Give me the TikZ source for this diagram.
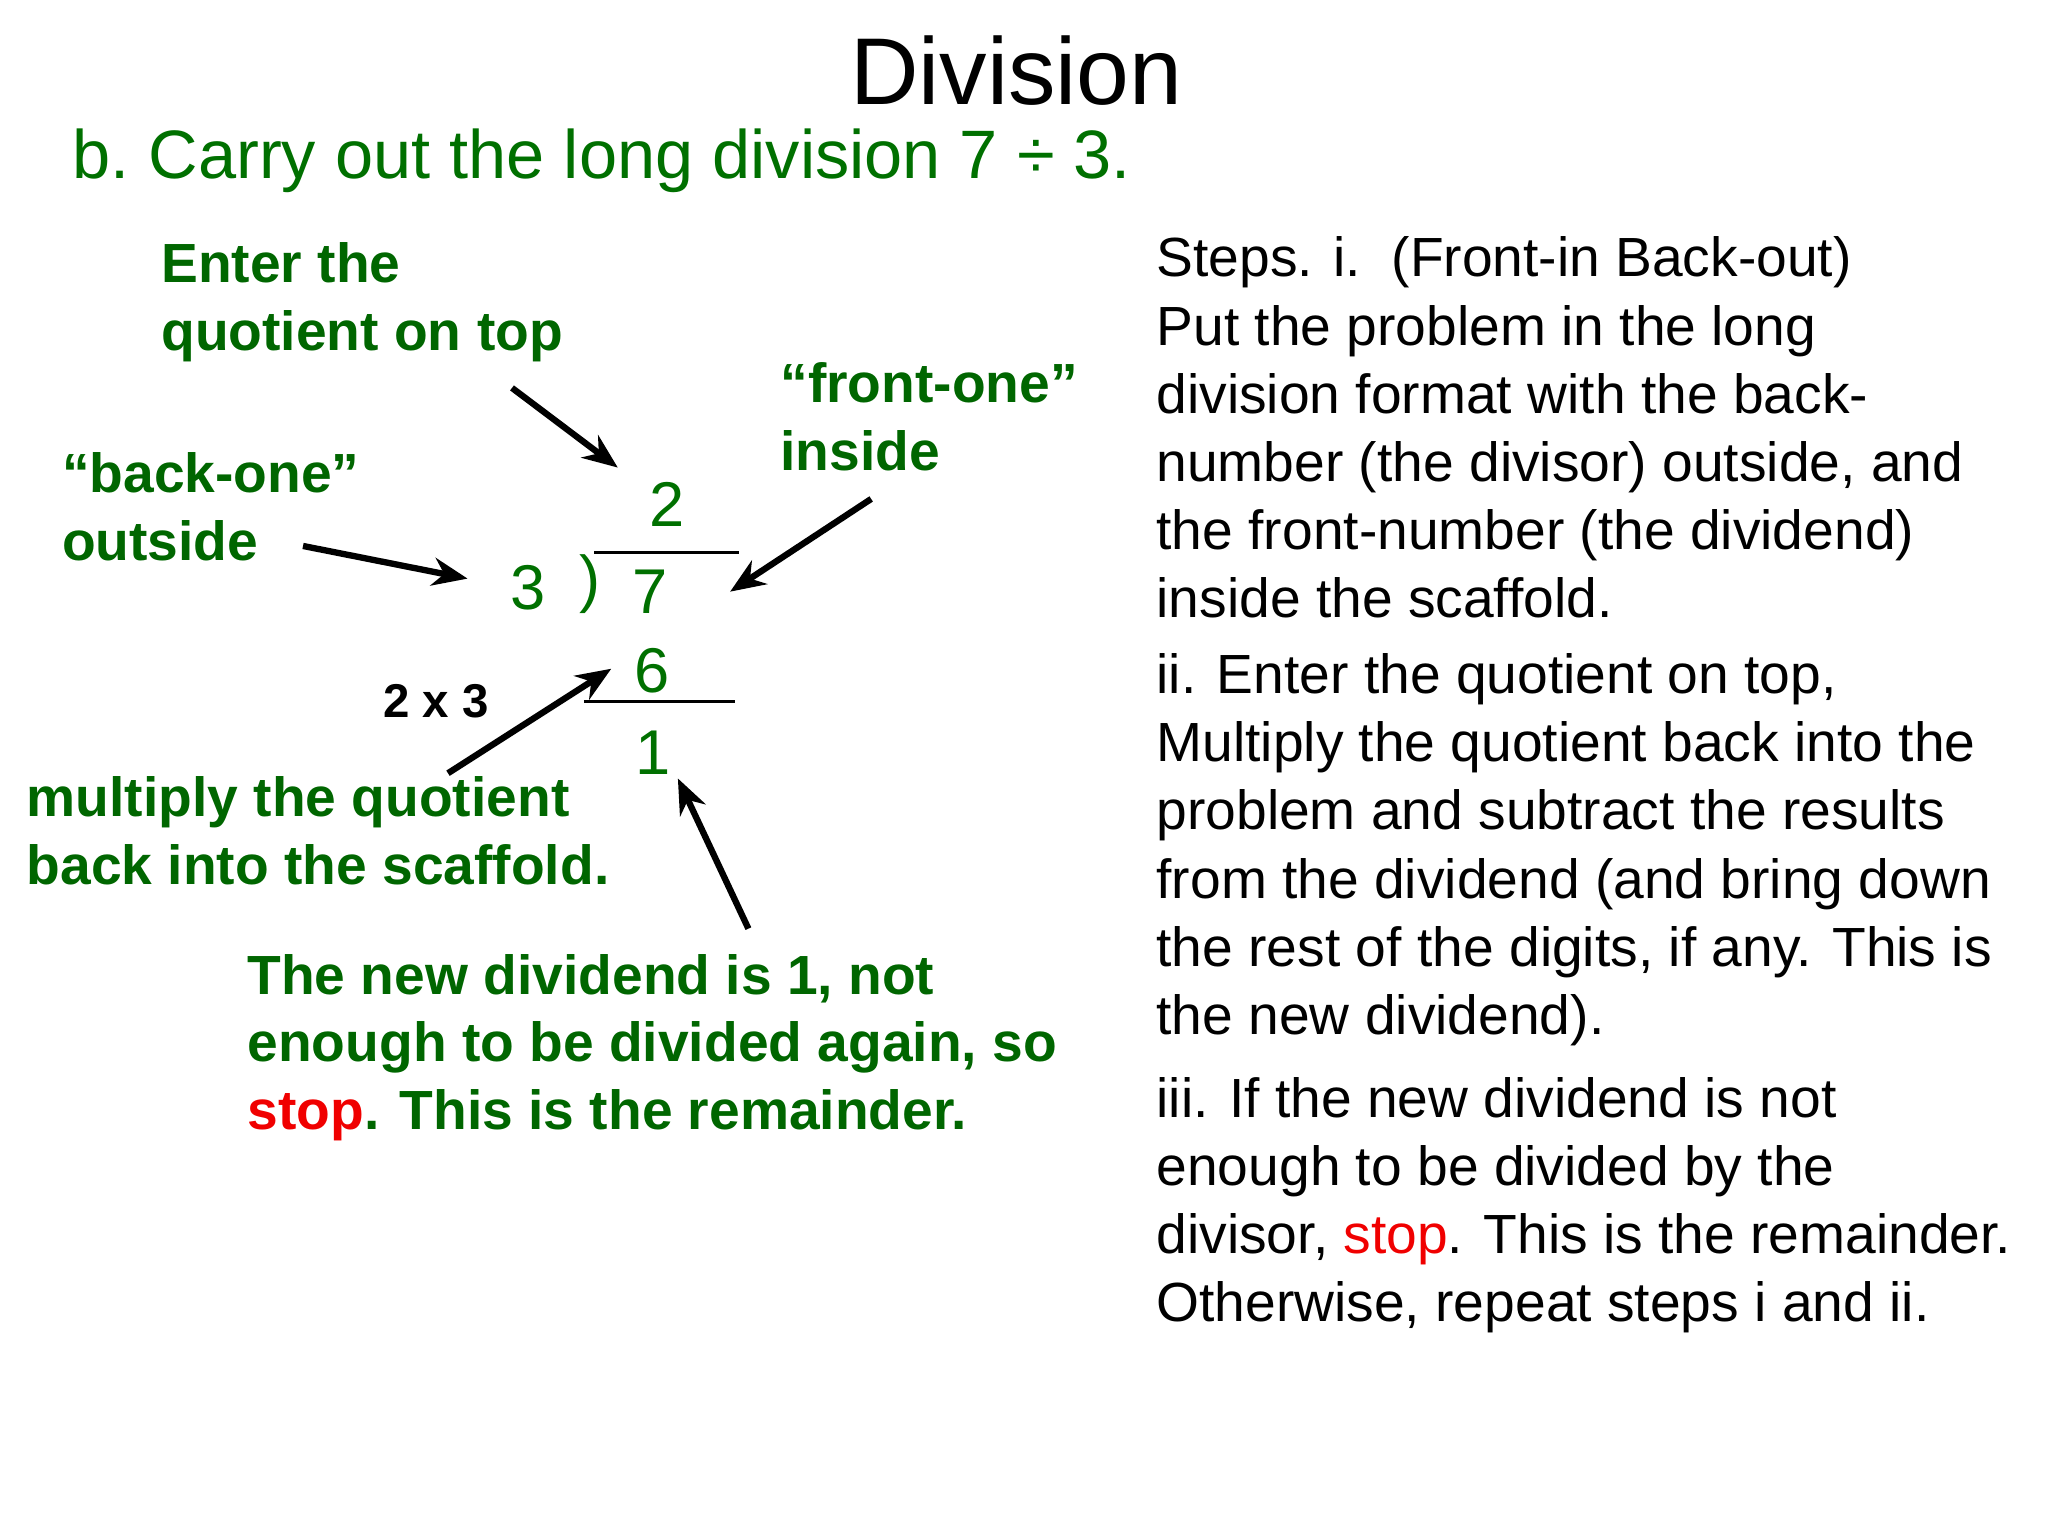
\documentclass[tikz,border=0pt]{standalone}
\usepackage{fontspec}
\setmainfont{Liberation Sans}
\usetikzlibrary{arrows.meta}
\definecolor{tgreen}{RGB}{0,112,0}
\definecolor{lgreen}{RGB}{0,102,0}
\definecolor{sred}{RGB}{240,0,0}
\begin{document}
\begin{tikzpicture}[x=0.01306cm,y=-0.01306cm,
  lab/.style={font=\fontsize{15.7}{19.3}\selectfont\bfseries,text=lgreen,align=left,anchor=base west,inner sep=0},
  body/.style={font=\fontsize{15.7}{19.4}\selectfont,align=left,anchor=base west,inner sep=0},
  dig/.style={font=\fontsize{18}{20}\selectfont,text=tgreen,anchor=base,inner sep=0},
  arr/.style={-{Stealth[length=10pt,width=8pt]},line width=1.8pt}]
\useasboundingbox (0,0) rectangle (1568,1176);
\node[font=\fontsize{27}{30}\selectfont,anchor=base,inner sep=0] (title) at (778,80) {Division};
\node[font=\fontsize{19.5}{24}\selectfont,text=tgreen,anchor=base west,inner sep=0] (sub) at (55,137) {b.~Carry out the long division 7 ÷ 3.};
\node[body] (s1) at (885,473) {Steps. i.\ \ (Front-in Back-out)\\Put the problem in the long\\division format with the back-\\number (the divisor) outside, and\\the front-number (the dividend)\\inside the scaffold.};
\node[body] (s2) at (885,792) {ii. Enter the quotient on top,\\Multiply the quotient back into the\\problem and subtract the results\\from the dividend (and bring down\\the rest of the digits, if any. This is\\the new dividend).};
\node[body] (s3) at (885,1012) {iii. If the new dividend is not\\enough to be divided by the\\divisor, \textcolor{sred}{stop}. This is the remainder.\\Otherwise, repeat steps i and ii.};
\node[lab] (l1) at (123,268) {Enter the\\quotient on top};
\node[lab] (l2) at (597,360) {“front-one”\\inside};
\node[lab] (l3) at (47,429) {“back-one”\\outside};
\node[font=\fontsize{13.5}{15}\selectfont\bfseries,anchor=base west,inner sep=0] (l4) at (293,549) {2 x 3};
\node[lab] (l5) at (20,677) {multiply the quotient\\back into the scaffold.};
\node[lab] (l6) at (189,865) {The new dividend is 1, not\\enough to be divided again, so\\\textcolor{sred}{stop}. This is the remainder.};
\node[dig] (d2) at (511,403) {2};
\node[dig] (d3) at (404,467) {3};
\node[dig] (dp) at (452,460) {)};
\node[dig] (d7) at (498,470) {7};
\node[dig] (d6) at (499,530) {6};
\node[dig] (d1) at (500,593) {1};
\coordinate (a1) at (455,423); \coordinate (b1) at (566,423);
\coordinate (a2) at (447,537); \coordinate (b2) at (563,537);
\draw[line width=0.8pt] (a1) -- (b1);
\draw[line width=0.8pt] (a2) -- (b2);
\coordinate (p1) at (392,297); \coordinate (q1) at (473,358);
\coordinate (p2) at (232,418); \coordinate (q2) at (358,443);
\coordinate (p3) at (667,382); \coordinate (q3) at (559,453);
\coordinate (p4) at (343,592); \coordinate (q4) at (468,512);
\coordinate (p5) at (573,711); \coordinate (q5) at (519,596);
\draw[arr] (p1) -- (q1);
\draw[arr] (p2) -- (q2);
\draw[arr] (p3) -- (q3);
\draw[arr] (p4) -- (q4);
\draw[arr] (p5) -- (q5);
\end{tikzpicture}
\end{document}
